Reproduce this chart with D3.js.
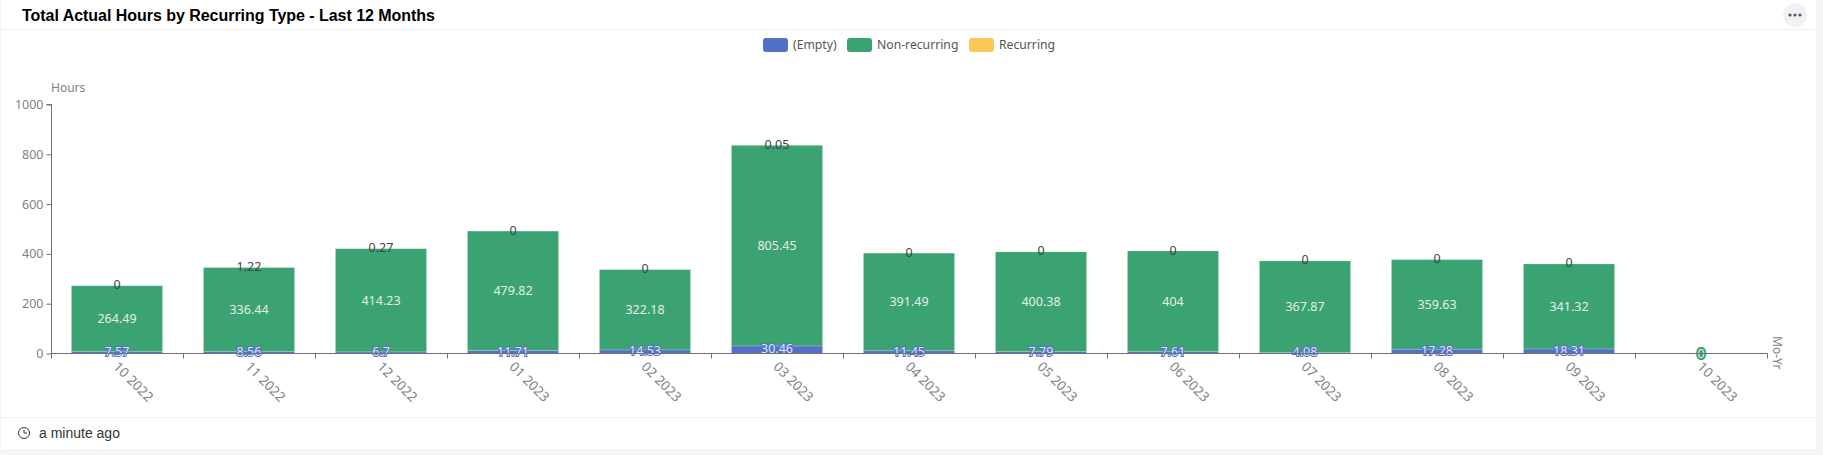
<!DOCTYPE html>
<html>
<head>
<meta charset="utf-8">
<script src="https://cdn.jsdelivr.net/npm/d3@7/dist/d3.min.js"></script>
<style>
  html, body { margin: 0; padding: 0; background: #f5f5f5; overflow: hidden; }
  svg { display: block; }
</style>
</head>
<body>
<svg id="chart" width="1823" height="455"></svg>
<script>
  var months = ['10 2022', '11 2022', '12 2022', '01 2023', '02 2023', '03 2023', '04 2023', '05 2023', '06 2023', '07 2023', '08 2023', '09 2023', '10 2023'];
  var emptyHours = [7.57, 8.56, 6.7, 11.71, 14.53, 30.46, 11.45, 7.79, 7.61, 4.08, 17.28, 18.31, 0];
  var nonRecurringHours = [264.49, 336.44, 414.23, 479.82, 322.18, 805.45, 391.49, 400.38, 404, 367.87, 359.63, 341.32, 0];
  var recurringHours = [0, 1.22, 0.27, 0, 0, 0.05, 0, 0, 0, 0, 0, 0, 0];
  var seriesNames = ['(Empty)', 'Non-recurring', 'Recurring'];
  var seriesColors = ['#5470c6', '#3ba272', '#fac858'];
  var yTicks = [0, 200, 400, 600, 800, 1000];

  var svg = d3.select('#chart');
  var uiFont = '"Noto Sans", sans-serif';
  var axisColor = '#6e7079';
  var axisTextColor = '#818289';

  // card and its header / footer rules
  svg.append('rect').attr('x', 1).attr('y', 0).attr('width', 1815).attr('height', 449).attr('fill', '#fff');
  svg.append('line').attr('x1', 1).attr('x2', 1816).attr('y1', 29.5).attr('y2', 29.5).attr('stroke', '#eeeeee');
  svg.append('line').attr('x1', 1).attr('x2', 1816).attr('y1', 417.5).attr('y2', 417.5).attr('stroke', '#eeeeee');

  svg.append('text').attr('x', 22).attr('y', 20.5)
    .attr('font-family', '"Liberation Sans", Arial, sans-serif').attr('font-weight', 700).attr('font-size', 16)
    .attr('textLength', 413).attr('fill', '#000').text('Total Actual Hours by Recurring Type - Last 12 Months');

  // "more" button
  svg.append('circle').attr('cx', 1795).attr('cy', 15).attr('r', 12).attr('fill', '#f0f1f5');
  svg.selectAll('.dot').data([-5, 0, 5]).enter().append('circle').attr('class', 'dot')
    .attr('cx', function(d) { return 1795 + d; }).attr('cy', 15).attr('r', 1.6).attr('fill', '#555a66');

  // footer
  var clock = svg.append('g').attr('transform', 'translate(24,433)').attr('fill', 'none').attr('stroke', '#333');
  clock.append('circle').attr('r', 5.5);
  clock.append('path').attr('d', 'M0,-3V0H3');
  svg.append('text').attr('x', 39).attr('y', 438)
    .attr('font-family', '"Liberation Sans", Arial, sans-serif').attr('font-size', 14).attr('fill', '#333').text('a minute ago');

  // legend
  var legendX = [763, 847, 969];
  var legend = svg.selectAll('.legend').data(seriesNames).enter().append('g').attr('class', 'legend')
    .attr('transform', function(d, i) { return 'translate(' + legendX[i] + ',38)'; });
  legend.append('rect').attr('width', 25).attr('height', 14).attr('rx', 3)
    .attr('fill', function(d, i) { return seriesColors[i]; });
  legend.append('text').attr('x', 30).attr('y', 10.5)
    .attr('font-family', uiFont).attr('font-size', 12.2).attr('fill', '#555').text(String);

  // scales
  var x = d3.scaleBand().domain(months).range([51.5, 1767.5]).paddingInner(0.31).paddingOuter(0.155);
  var y = d3.scaleLinear().domain([0, 1000]).range([353.5, 104.5]);

  var stack = d3.stack().keys([0, 1, 2]).value(function(d, k) { return d[k]; });
  var rows = months.map(function(m, i) { return [emptyHours[i], nonRecurringHours[i], recurringHours[i]]; });
  var layers = stack(rows);

  var plot = svg.append('g').attr('transform', 'translate(-0.5,0)');
  // recurring slivers do not show in the reference, so skip anything under 2 hours
  layers.forEach(function(layer, k) {
    plot.selectAll('.bar-' + k).data(layer.filter(function(d) { return d[1] - d[0] > 2; })).enter().append('rect').attr('class', 'bar-' + k)
      .attr('x', function(d) { return x(months[rows.indexOf(d.data)]); })
      .attr('width', x.bandwidth())
      .attr('y', function(d) { return y(d[1]); })
      .attr('height', function(d) { return y(d[0]) - y(d[1]); })
      .attr('fill', seriesColors[k])
      .attr('stroke', '#fff').attr('stroke-opacity', 0.18).attr('stroke-width', 1);
  });

  // axes
  var yAxis = svg.append('g').attr('transform', 'translate(51.5,0)')
    .call(d3.axisLeft(y).tickValues(yTicks).tickFormat(d3.format('d')).tickSize(5).tickPadding(3));
  yAxis.selectAll('path, line').attr('stroke', axisColor);
  yAxis.select('.domain').attr('d', 'M-5,104.5H0V353.5');
  yAxis.selectAll('text').attr('font-family', uiFont).attr('font-size', 12.5).attr('fill', axisTextColor);

  var xAxis = svg.append('g').attr('transform', 'translate(0,353.5)');
  var tickEdges = months.map(function(m, i) { return x(m) - x.step() * 0.155; });
  tickEdges.push(1767.5);
  xAxis.append('line').attr('x1', 51.5).attr('x2', 1767.5).attr('stroke', axisColor);
  xAxis.selectAll('.tick').data(tickEdges).enter().append('line').attr('class', 'tick')
    .attr('x1', Number).attr('x2', Number).attr('y1', 0).attr('y2', 5).attr('stroke', axisColor);
  xAxis.selectAll('.tick-label').data(months).enter().append('text').attr('class', 'tick-label')
    .attr('transform', function(d) { return 'translate(' + (x(d) + x.bandwidth() / 2 - 5) + ',14) rotate(45)'; })
    .attr('font-family', uiFont).attr('font-size', 13.5).attr('fill', axisTextColor).text(String);

  svg.append('text').attr('x', 51).attr('y', 92)
    .attr('font-family', uiFont).attr('font-size', 12).attr('fill', axisTextColor).text('Hours');
  svg.append('text').attr('transform', 'translate(1773,336) rotate(90)')
    .attr('font-family', uiFont).attr('font-size', 12).attr('fill', axisTextColor).text('Mo-Yr');

  // value labels, stroked in the colour of their series
  var labelStyle = function(sel) {
    return sel.attr('text-anchor', 'middle').attr('dominant-baseline', 'central')
      .attr('font-family', uiFont).attr('font-size', 12.5).attr('paint-order', 'stroke');
  };
  labelStyle(plot.selectAll('.label-rec').data(layers[2]).enter().append('text').attr('class', 'label-rec'))
    .attr('x', function(d, i) { return x(months[i]) + x.bandwidth() / 2; })
    .attr('y', function(d) { return y((d[0] + d[1]) / 2) - 1; })
    .attr('fill', '#444')
    .text(function(d, i) { return recurringHours[i]; });
  labelStyle(plot.selectAll('.label-empty').data(layers[0]).enter().append('text').attr('class', 'label-empty'))
    .attr('x', function(d, i) { return x(months[i]) + x.bandwidth() / 2; })
    .attr('y', function(d) { return y((d[0] + d[1]) / 2) - 1; })
    .attr('fill', '#dfe5fa').attr('stroke', seriesColors[0]).attr('stroke-width', 2)
    .text(function(d, i) { return emptyHours[i]; });
  labelStyle(plot.selectAll('.label-non').data(layers[1]).enter().append('text').attr('class', 'label-non'))
    .attr('x', function(d, i) { return x(months[i]) + x.bandwidth() / 2; })
    .attr('y', function(d) { return y((d[0] + d[1]) / 2); })
    .attr('fill', '#e4efe9').attr('stroke', seriesColors[1]).attr('stroke-width', 4)
    .text(function(d, i) { return nonRecurringHours[i]; });
</script>
</body>
</html>
